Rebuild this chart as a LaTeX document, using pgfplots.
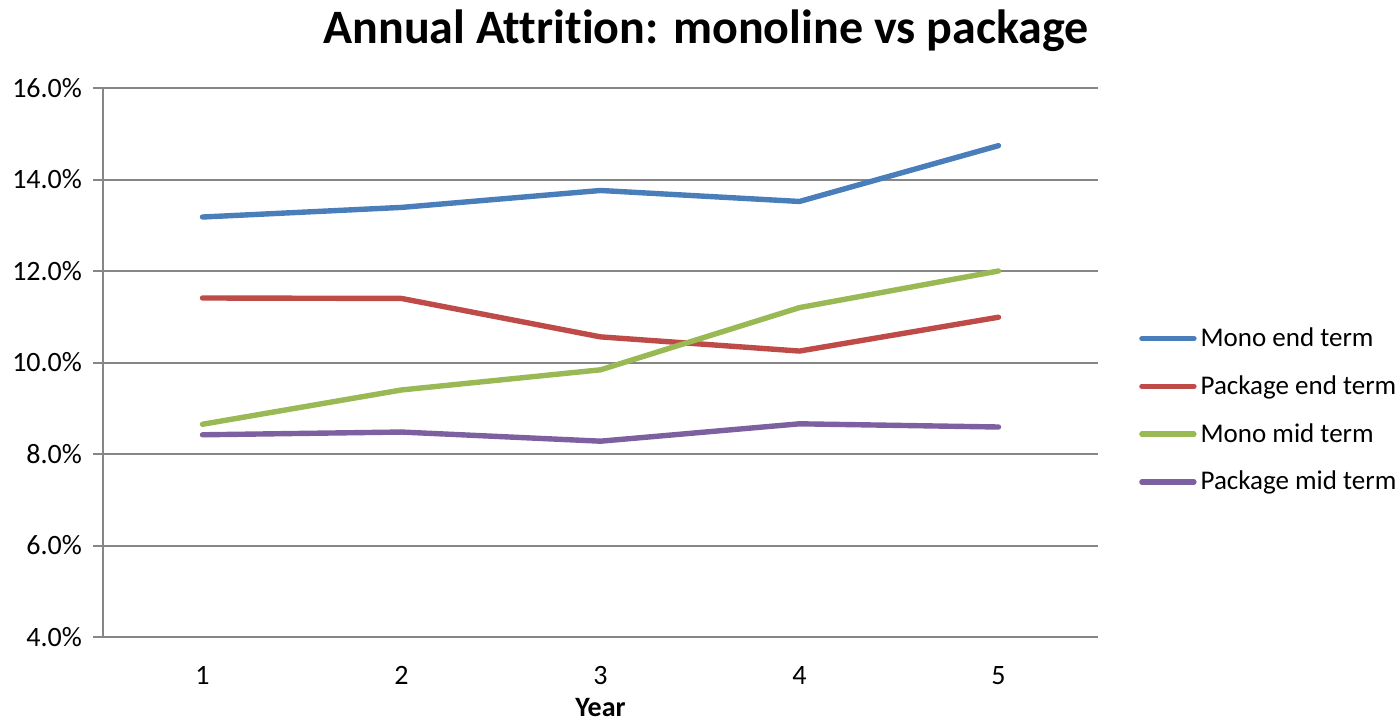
\documentclass[border=0pt]{standalone}
\usepackage{pgfplots}
\pgfplotsset{compat=1.18}
\usepackage{fontspec}
\setmainfont[Ligatures=NoCommon]{Carlito}

\definecolor{monoend}{HTML}{4A7EBB}
\definecolor{packend}{HTML}{BE4B48}
\definecolor{monomid}{HTML}{98B954}
\definecolor{packmid}{HTML}{7D60A0}
\definecolor{gridgray}{HTML}{868686}

\begin{document}
\begin{tikzpicture}
\useasboundingbox (-51.5pt,-43.5pt) rectangle (648pt,318.5pt);
\begin{axis}[
  at={(0,0)}, anchor=south west,
  scale only axis,
  width=497.5pt, height=274.5pt,
  xmin=0.5, xmax=5.5,
  ymin=4, ymax=16,
  ytick={4,6,...,16},
  xtick={1,2,3,4,5},
  major x tick style={draw=none},
  ymajorgrids,
  grid style={gridgray, line width=1pt},
  axis line style={gridgray, line width=1pt},
  axis x line*=bottom,
  axis y line*=left,
  y axis line style={-},
  x axis line style={-},
  tick align=outside,
  major tick length=5pt,
  ytick style={gridgray, line width=1pt},
  /pgf/number format/assume math mode=true,
  tick label style={font=\fontsize{14}{16}\selectfont},
  yticklabel={\pgfmathprintnumber[fixed,fixed zerofill,precision=1]{\tick}\%},
  yticklabel style={xshift=-2pt},
  xticklabel style={yshift=-6pt},
  xlabel={\textbf{Year}},
  xlabel style={font=\fontsize{14}{16}\selectfont, yshift=-2.5pt, inner ysep=1pt},
  legend style={draw=none, fill=none, at={(1.035,0.413)}, anchor=west,
    font=\fontsize{13.5}{15}\selectfont, row sep=9pt,
    /tikz/every even column/.append style={column sep=0pt}},
  legend cell align=left,
  legend image code/.code={\draw[#1, line cap=round] (0pt,0pt) -- (26pt,0pt);},
  every axis plot/.append style={line width=2.7pt, line join=round, line cap=round},
  clip=false,
]
\addplot[monoend] coordinates {(1,13.18) (2,13.39) (3,13.76) (4,13.52) (5,14.74)};
\addlegendentry{Mono end term}
\addplot[packend] coordinates {(1,11.41) (2,11.40) (3,10.56) (4,10.25) (5,10.99)};
\addlegendentry{Package end term}
\addplot[monomid] coordinates {(1,8.65) (2,9.40) (3,9.84) (4,11.20) (5,12.00)};
\addlegendentry{Mono mid term}
\addplot[packmid] coordinates {(1,8.42) (2,8.48) (3,8.28) (4,8.66) (5,8.59)};
\addlegendentry{Package mid term}
\node[font=\fontsize{24}{28}\selectfont\bfseries, anchor=center]
  at (rel axis cs:0.606,1.105) {Annual Attrition: monoline vs package};
\end{axis}
\end{tikzpicture}
\end{document}
